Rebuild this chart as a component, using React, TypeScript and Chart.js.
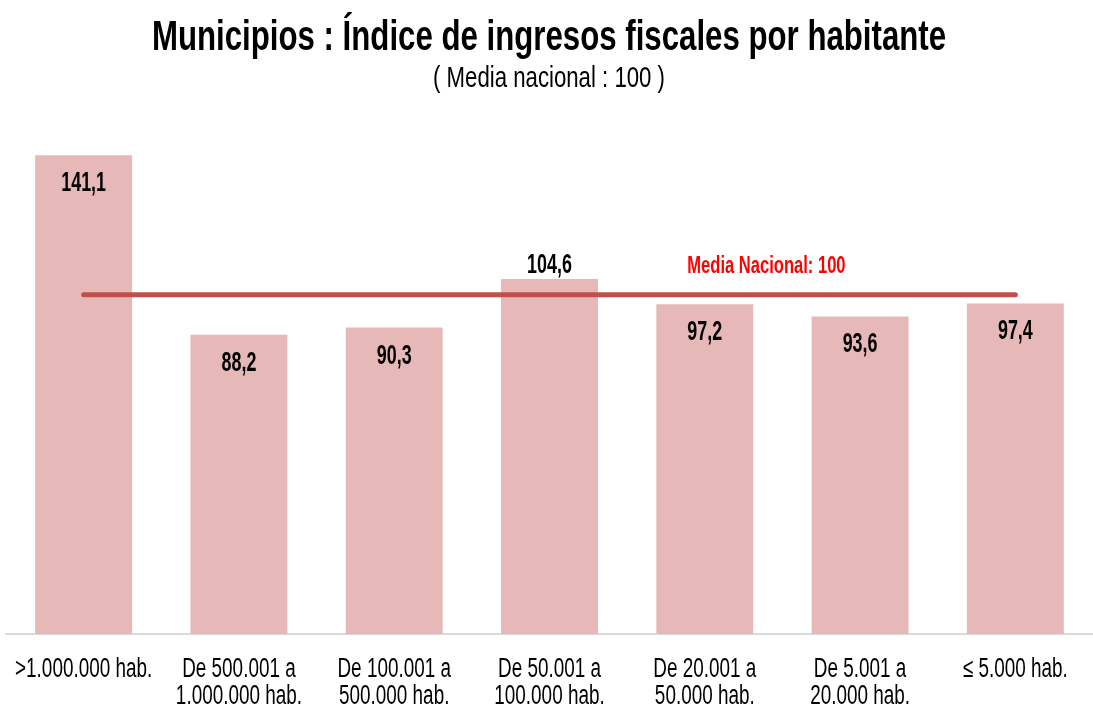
import React, { useEffect, useRef } from "react";
import { Chart, registerables } from "chart.js";

Chart.register(...registerables);

const TITLE = "Municipios : Índice de ingresos fiscales por habitante";
const SUBTITLE = "( Media nacional : 100 )";
const categories: string[][] = [
  [">1.000.000 hab."],
  ["De 500.001 a", "1.000.000 hab."],
  ["De 100.001 a", "500.000 hab."],
  ["De 50.001 a", "100.000 hab."],
  ["De 20.001 a", "50.000 hab."],
  ["De 5.001 a", "20.000 hab."],
  ["≤ 5.000 hab."],
];
const indexValues: number[] = [141.1, 88.2, 90.3, 104.6, 97.2, 93.6, 97.4];
const nationalMean = 100;
const meanLabel = "Media Nacional: 100";

const FONT = '"Liberation Sans", Arial, sans-serif';

const fmt = (v: number) => v.toFixed(1).replace(".", ",");

function narrowText(ctx: any, text: string, x: number, y: number, font: string, color: string, squeeze: number) {
  ctx.save();
  ctx.translate(x, y);
  ctx.scale(squeeze, 1);
  ctx.font = font;
  ctx.fillStyle = color;
  ctx.textAlign = "center";
  ctx.textBaseline = "alphabetic";
  ctx.fillText(text, 0, 0);
  ctx.restore();
}

const labelsPlugin = {
  id: "customLabels",
  beforeDraw(chart: any) {
    const ctx = chart.ctx;
    ctx.save();
    ctx.fillStyle = "#ffffff";
    ctx.fillRect(0, 0, chart.width, chart.height);
    ctx.restore();
    narrowText(ctx, TITLE, 549, 50, `bold 42px ${FONT}`, "#000000", 0.743);
    narrowText(ctx, SUBTITLE, 549, 87, `30px ${FONT}`, "#000000", 0.74);
  },
  afterDatasetsDraw(chart: any) {
    const ctx = chart.ctx;
    const meta = chart.getDatasetMeta(1);
    const yScale = chart.scales.y;
    const xScale = chart.scales.x;
    const lineY = yScale.getPixelForValue(nationalMean);
    meta.data.forEach((bar: any, i: number) => {
      let y = bar.y + 36;
      if (Math.abs(y - 10 - lineY) < 20) y = bar.y - 6;
      narrowText(ctx, fmt(indexValues[i]), bar.x, y, `bold 28px ${FONT}`, "#000000", 0.64);
    });
    const mx = (xScale.getPixelForValue(4) + xScale.getPixelForValue(5)) / 2 - 16;
    narrowText(ctx, meanLabel, mx, lineY - 22, `bold 23px ${FONT}`, "#FF0000", 0.72);
    const base = chart.chartArea.bottom + 43;
    categories.forEach((lines, i) => {
      const x = xScale.getPixelForValue(i);
      lines.forEach((ln, j) => {
        narrowText(ctx, ln, x, base + j * 27, `27px ${FONT}`, "#000000", 0.7);
      });
    });
  },
};

export default function App() {
  const ref = useRef<HTMLCanvasElement | null>(null);
  useEffect(() => {
    if (!ref.current) return;
    const chart = new Chart(ref.current, {
      type: "bar",
      data: {
        labels: categories,
        datasets: [
          {
            type: "line",
            data: categories.map(() => nationalMean),
            borderColor: "#C0504D",
            borderWidth: 5,
            borderCapStyle: "round",
            pointRadius: 0,
            order: 0,
          } as any,
          {
            type: "bar",
            data: indexValues,
            backgroundColor: "#E6B8B7",
            categoryPercentage: 1,
            barPercentage: 0.624,
            order: 1,
          },
        ],
      },
      options: {
        responsive: false,
        animation: false,
        layout: { padding: { top: 125, left: 6, right: 0, bottom: 0 } },
        plugins: {
          legend: { display: false },
          tooltip: { enabled: false },
        },
        scales: {
          x: {
            grid: { display: false, drawTicks: false },
            border: { display: true, color: "#D9D9D9", width: 2 },
            ticks: { display: false },
            afterFit: (scale: any) => {
              scale.height = 79;
            },
          },
          y: {
            display: false,
            min: 0,
            max: 150,
          },
        },
      },
      plugins: [labelsPlugin],
    });
    return () => chart.destroy();
  }, []);
  return (
    <div style={{ position: "absolute", left: 0, top: 0, width: 1093, height: 713, background: "#fff" }}>
      <canvas ref={ref} width={1093} height={713} style={{ display: "block" }} />
    </div>
  );
}
